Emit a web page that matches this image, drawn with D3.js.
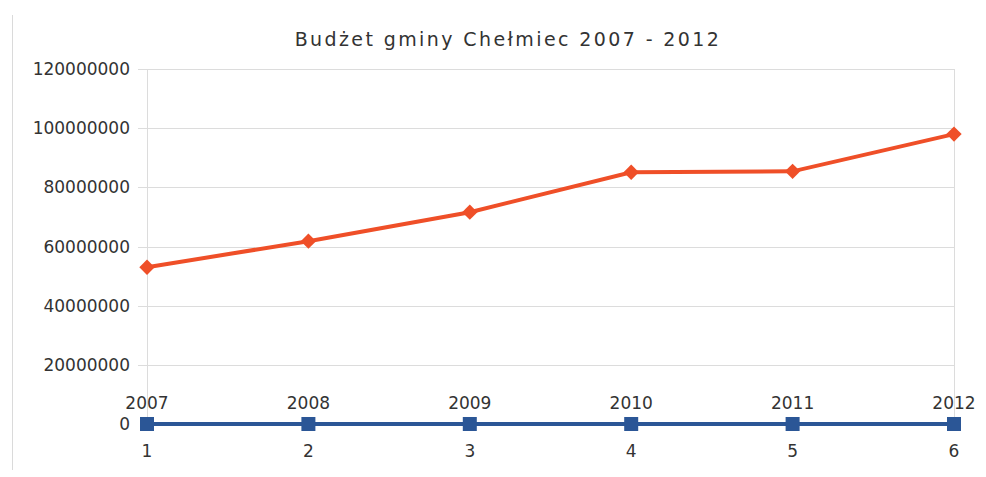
<!DOCTYPE html>
<html lang="pl">
<head>
  <meta charset="UTF-8">
  <title>Budżet gminy Chełmiec 2007 - 2012</title>
  <style>
    body { margin: 0; background: #fff; }
    text { font-family: "DejaVu Sans", sans-serif; fill: #333; }
    .grid line { stroke: #dcdcdc; }
  </style>
</head>
<body>
  <svg id="chart"></svg>

  <script src="https://d3js.org/d3.v7.min.js"></script>
  <script>
    const categories = [1, 2, 3, 4, 5, 6];
    const years = [2007, 2008, 2009, 2010, 2011, 2012];
    const budget = [53000000, 61800000, 71600000, 85100000, 85400000, 98000000];
    const yTicks = [0, 20000000, 40000000, 60000000, 80000000, 100000000, 120000000];

    const width = 986, height = 477;
    const plotLeft = 147, plotRight = 954, plotTop = 69, plotBottom = 424;

    const svg = d3.select("#chart")
      .attr("width", width)
      .attr("height", height);

    const x = d3.scalePoint()
      .domain(categories)
      .range([plotLeft, plotRight]);

    const y = d3.scaleLinear()
      .domain([0, 120000000])
      .range([plotBottom, plotTop]);

    // frame line on the left
    svg.append("line")
      .attr("x1", 12.5).attr("x2", 12.5)
      .attr("y1", 15).attr("y2", 470)
      .attr("stroke", "#dadada");

    // title
    svg.append("text")
      .attr("x", 508)
      .attr("y", 46)
      .attr("text-anchor", "middle")
      .attr("font-size", 19)
      .attr("letter-spacing", 2.4)
      .text("Budżet gminy Chełmiec 2007 - 2012");

    // horizontal grid
    const grid = svg.append("g").attr("class", "grid");
    grid.selectAll("line")
      .data(yTicks.filter(d => d > 0))
      .enter()
      .append("line")
      .attr("x1", plotLeft - 9)
      .attr("x2", plotRight)
      .attr("y1", d => Math.round(y(d)) + 0.5)
      .attr("y2", d => Math.round(y(d)) + 0.5);

    // vertical lines
    [plotLeft, plotRight].forEach(px => {
      svg.append("line")
        .attr("x1", px + 0.5).attr("x2", px + 0.5)
        .attr("y1", plotTop).attr("y2", plotBottom)
        .attr("stroke", "#dcdcdc");
    });

    // y tick labels
    svg.selectAll(".ylab")
      .data(yTicks)
      .enter()
      .append("text")
      .attr("class", "ylab")
      .attr("x", 130)
      .attr("y", d => y(d) + 6)
      .attr("text-anchor", "end")
      .attr("font-size", 17)
      .text(d => d);

    // x tick labels
    svg.selectAll(".xlab")
      .data(categories)
      .enter()
      .append("text")
      .attr("class", "xlab")
      .attr("x", d => x(d))
      .attr("y", 457)
      .attr("text-anchor", "middle")
      .attr("font-size", 17)
      .text(d => d);

    const line = d3.line()
      .x((d, i) => x(categories[i]))
      .y(d => y(d));

    // year series (tiny values, sits on zero)
    svg.append("path")
      .datum(years)
      .attr("d", line)
      .attr("fill", "none")
      .attr("stroke", "#2b5696")
      .attr("stroke-width", 4);

    svg.selectAll(".sq")
      .data(years)
      .enter()
      .append("rect")
      .attr("class", "sq")
      .attr("x", (d, i) => x(categories[i]) - 7)
      .attr("y", d => y(d) - 7)
      .attr("width", 14)
      .attr("height", 14)
      .attr("fill", "#2b5696");

    svg.selectAll(".yearlab")
      .data(years)
      .enter()
      .append("text")
      .attr("class", "yearlab")
      .attr("x", (d, i) => x(categories[i]))
      .attr("y", d => y(d) - 15)
      .attr("text-anchor", "middle")
      .attr("font-size", 17)
      .text(d => d);

    // budget series
    svg.append("path")
      .datum(budget)
      .attr("d", line)
      .attr("fill", "none")
      .attr("stroke", "#ef4f28")
      .attr("stroke-width", 4);

    svg.selectAll(".dia")
      .data(budget)
      .enter()
      .append("path")
      .attr("class", "dia")
      .attr("d", d3.symbol().type(d3.symbolDiamond2).size(150))
      .attr("transform", (d, i) => `translate(${x(categories[i])},${y(d)})`)
      .attr("fill", "#ef4f28");
  </script>
</body>
</html>
